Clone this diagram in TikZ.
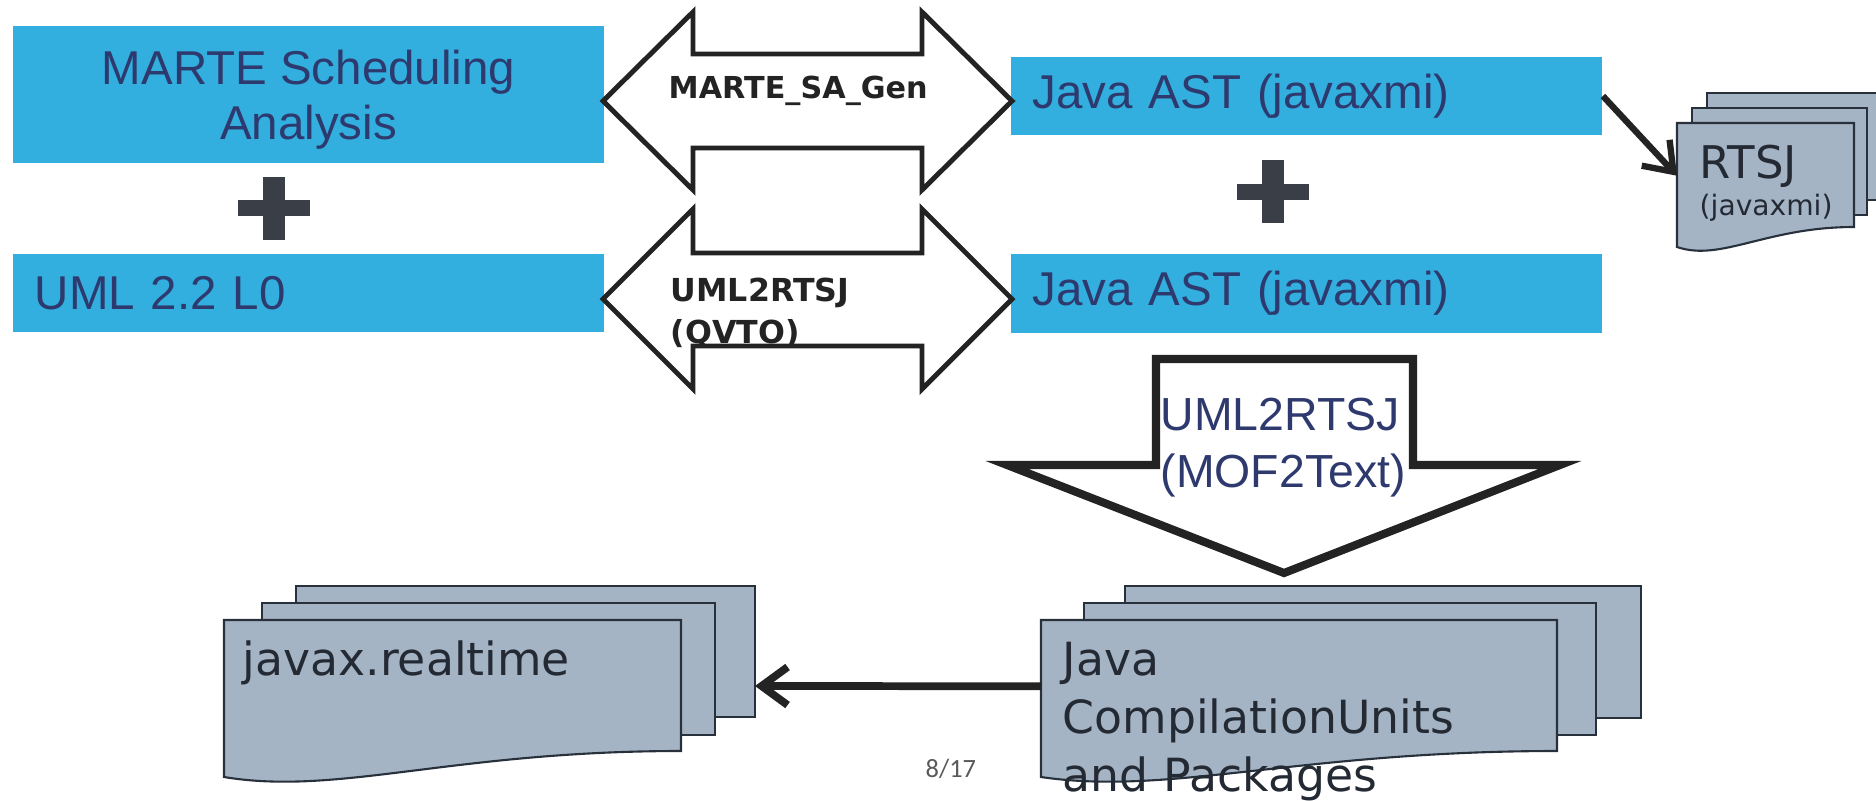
\documentclass[tikz,border=0pt]{standalone}
\usepackage{fontspec}
\setmainfont{Liberation Sans}
\newfontfamily\docfont{DejaVu Sans}
\newfontfamily\numfont{Carlito}
\usetikzlibrary{arrows.meta}
\definecolor{boxblue}{RGB}{50,174,223}
\definecolor{boxtext}{RGB}{46,58,110}
\definecolor{plusgray}{RGB}{58,63,71}
\definecolor{pagefill}{RGB}{165,180,197}
\definecolor{pageline}{RGB}{40,48,60}
\definecolor{doctext}{RGB}{36,42,52}
\definecolor{arrowline}{RGB}{35,35,35}
\begin{document}
\begin{tikzpicture}[x=0.01cm,y=-0.01cm,
  bluebox/.style={fill=boxblue,text=boxtext,inner sep=0pt,minimum width=5.91cm,minimum height=0.78cm,font=\fontsize{13.5}{15.6}\selectfont},
  leftbox/.style={text width=5.47cm,align=left},
  blockarrow/.style={draw=arrowline,fill=white,line width=1.4pt},
  arrowlabel/.style={text=arrowline,anchor=base west,inner sep=0pt,align=left,font=\docfont\bfseries\fontsize{9}{11.7}\selectfont},
  docpage/.style={draw=pageline,fill=pagefill,line width=0.6pt},
  docname/.style={text=doctext,anchor=north west,align=left,inner ysep=0.23cm,text height=0.32cm,font=\docfont\fontsize{13}{16.4}\selectfont},
  conn/.style={draw=arrowline,line width=2.2pt,-{Straight Barb[length=2.6mm,width=3.8mm]}}]
\useasboundingbox (0,0) rectangle (1876,800);
% models
\node[bluebox,minimum height=1.37cm,align=center] (marte) at (308.5,94.5) {\rule{0pt}{0.45cm}MARTE Scheduling\\Analysis};
\node[bluebox,leftbox] (uml) at (308.5,293) {UML 2.2 L0};
\node[bluebox,leftbox] (java1) at (1306.5,96) {Java AST (javaxmi)};
\node[bluebox,leftbox] (java2) at (1306.5,293.5) {Java AST (javaxmi)};
\fill[plusgray] (263,177) rectangle (285,240);
\fill[plusgray] (238,200) rectangle (310,216);
\fill[plusgray] (1262,160) rectangle (1284,223);
\fill[plusgray] (1237,184) rectangle (1309,200);
% transformations
\draw[blockarrow] (603,101) -- (693,12) -- (693,54) -- (922,54) -- (922,12) -- (1012,101) -- (922,190) -- (922,148) -- (693,148) -- (693,190) -- cycle;
\node[arrowlabel,font=\docfont\bfseries\fontsize{8.6}{11.7}\selectfont] (sagen) at (668,98) {MARTE\_SA\_Gen};
\draw[blockarrow] (603,299) -- (693,209) -- (693,253) -- (922,253) -- (922,209) -- (1012,299) -- (922,389) -- (922,346) -- (693,346) -- (693,389) -- cycle;
\node[arrowlabel] (qvto) at (670,343) {UML2RTSJ\\(QVTO)};
\draw[blockarrow,line width=2.3pt] (1156,359) -- (1413,359) -- (1413,465) -- (1560,465) -- (1284,573) -- (1007,465) -- (1156,465) -- cycle;
\node[text=boxtext,anchor=base west,inner sep=0pt,align=left,font=\fontsize{13.2}{16.2}\selectfont] (mof) at (1160,487) {UML2RTSJ\\(MOF2Text)};
% generated files
\filldraw[docpage] (1707,93) rectangle (1884,200);
\filldraw[docpage] (1692,108) rectangle (1867,215);
\filldraw[docpage] (1677,123) -- (1854,123) -- (1854,227) .. controls (1766,227) and (1721,262) .. (1677,247) -- cycle;
\node[docname,inner xsep=0.22cm,text width=1.33cm,text depth=0.26cm,font=\docfont\fontsize{12.8}{10.5}\selectfont] (rtsj) at (1677,123) {RTSJ\\{\fontsize{8}{10.5}\selectfont(javaxmi)}};
\filldraw[docpage] (1125,586) rectangle (1641,718);
\filldraw[docpage] (1084,603) rectangle (1596,735);
\filldraw[docpage] (1041,620) -- (1557,620) -- (1557,751) .. controls (1299,751) and (1170,796) .. (1041,777) -- cycle;
\node[docname,inner xsep=0.21cm,text width=4.74cm,text depth=0.53cm] (jcu) at (1041,620) {Java\\CompilationUnits\\and Packages};
\filldraw[docpage] (296,586) rectangle (755,717);
\filldraw[docpage] (262,603) rectangle (715,735);
\filldraw[docpage] (224,620) -- (681,620) -- (681,751) .. controls (452,751) and (338,796) .. (224,777) -- cycle;
\node[docname,inner xsep=0.18cm,text width=4.21cm,text depth=0.53cm] (javax) at (224,620) {javax.realtime};
\coordinate (javaxstack) at (755,686);
\draw[conn,line width=1.8pt] (java1.east) -- (rtsj.west);
\draw[conn] (jcu.west) -- (javaxstack);
\node[text=black!65,anchor=base west,inner sep=0pt,font=\numfont\fontsize{7.5}{9}\selectfont] (pagenum) at (925,777) {8/17};
\end{tikzpicture}
\end{document}
